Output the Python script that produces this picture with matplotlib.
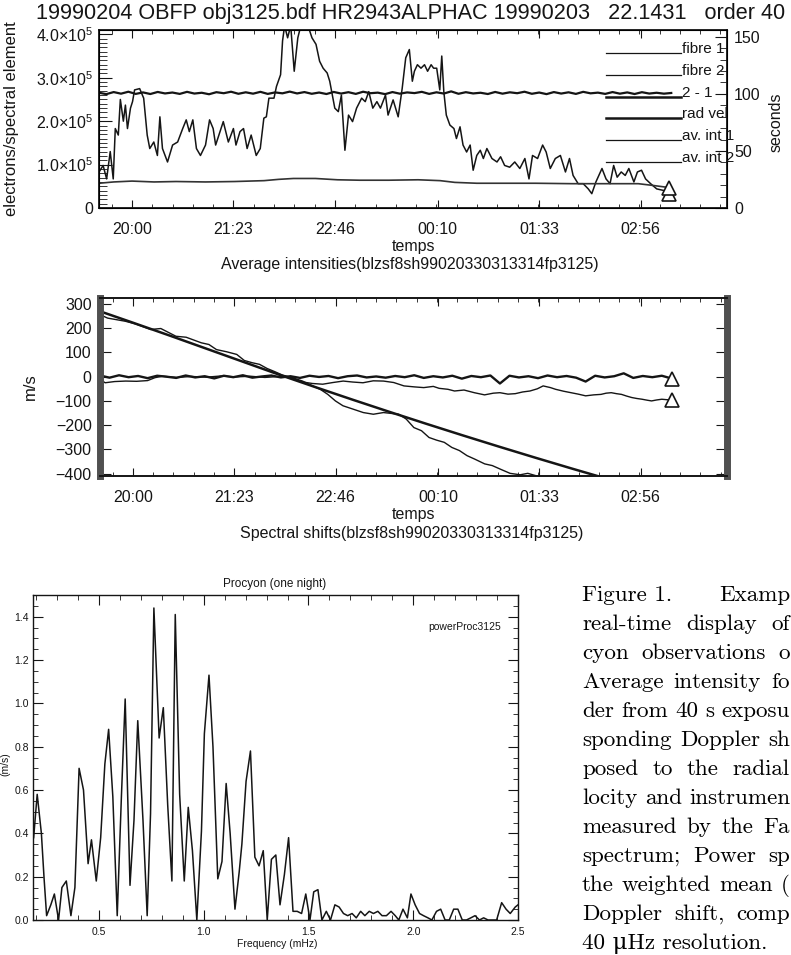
import matplotlib
matplotlib.use('Agg')
from matplotlib import pyplot as plt
from matplotlib.ticker import AutoMinorLocator

plt.rcParams['font.family'] = ['Liberation Sans', 'DejaVu Sans']
plt.rcParams['mathtext.fontset'] = 'custom'
plt.rcParams['mathtext.rm'] = 'Liberation Sans'
plt.rcParams['mathtext.it'] = 'Liberation Sans:italic'
plt.rcParams['mathtext.bf'] = 'Liberation Sans:bold'

W, H = 791, 955
ink = '#151515'

# ---- time axis (decimal hours, past midnight > 24) ----
tickHours = [20.0, 21.383, 22.767, 24.167, 25.55, 26.933]
tickNames = ['20:00', '21:23', '22:46', '00:10', '01:33', '02:56']

# ---- panel 1 : average intensities ----
int1Time = [19.551, 19.606, 19.654, 19.703, 19.744, 19.772, 19.813, 19.841, 19.882, 19.910,
            19.938, 19.979, 20.007, 20.035, 20.104, 20.159, 20.207, 20.242, 20.297, 20.346,
            20.380, 20.415, 20.484, 20.553, 20.622, 20.691, 20.739, 20.781, 20.829, 20.878,
            20.933, 21.002, 21.057, 21.106, 21.140, 21.244, 21.313, 21.382, 21.417, 21.472,
            21.520, 21.569, 21.624, 21.693, 21.748, 21.797, 21.831, 21.866, 21.935, 21.969,
            22.025, 22.052, 22.080, 22.121, 22.163, 22.211, 22.260, 22.301, 22.349, 22.398,
            22.453, 22.508, 22.557, 22.605, 22.660, 22.695, 22.729, 22.764, 22.812, 22.854,
            22.902, 22.951, 23.006, 23.061, 23.130, 23.179, 23.227, 23.282, 23.338, 23.386,
            23.455, 23.490, 23.559, 23.628, 23.683, 23.731, 23.780, 23.821, 23.849, 23.890,
            23.939, 23.987, 24.029, 24.077, 24.111, 24.153, 24.195, 24.222, 24.250, 24.284,
            24.333, 24.388, 24.422, 24.471, 24.512, 24.561, 24.609, 24.650, 24.699, 24.747,
            24.789, 24.837, 24.906, 24.975, 25.024, 25.079, 25.148, 25.217, 25.286, 25.355,
            25.411, 25.459, 25.528, 25.597, 25.645, 25.701, 25.770, 25.839, 25.908, 25.963,
            26.012, 26.081, 26.150, 26.219, 26.267, 26.323, 26.406, 26.461, 26.516, 26.565,
            26.613, 26.668, 26.723, 26.772, 26.841, 26.889, 26.945, 27.000, 27.069, 27.152,
            27.256, 27.325]
int1 = [0.83, 0.98, 0.67, 1.30, 0.67, 1.83, 1.68, 2.50, 2.00, 2.37,
        1.83, 2.30, 2.45, 2.72, 2.75, 2.53, 1.68, 1.37, 1.52, 1.21,
        2.10, 1.37, 1.06, 1.45, 1.52, 1.83, 2.03, 1.76, 2.03, 1.37,
        1.21, 1.45, 2.03, 1.83, 1.45, 1.99, 1.52, 1.83, 1.45, 1.76,
        1.83, 1.37, 1.68, 1.21, 1.37, 2.07, 2.10, 2.53, 2.53, 2.80,
        3.07, 3.85, 4.20, 3.92, 4.20, 3.15, 3.92, 4.20, 4.15, 4.20,
        3.92, 3.77, 3.38, 3.22, 3.11, 2.92, 2.61, 2.30, 2.22, 2.60,
        1.33, 2.14, 1.99, 2.30, 2.53, 2.45, 2.68, 2.30, 2.45, 2.30,
        2.60, 2.14, 2.49, 2.10, 2.76, 3.46, 3.65, 2.92, 3.15, 3.30,
        3.22, 3.30, 3.15, 3.30, 3.22, 3.22, 2.72, 3.50, 2.68, 2.14,
        1.91, 1.83, 1.60, 1.87, 1.45, 1.29, 1.45, 0.87, 1.21, 1.33,
        1.14, 1.37, 1.14, 1.06, 1.18, 0.98, 0.94, 1.06, 0.91, 1.14,
        0.67, 1.21, 1.14, 1.45, 1.29, 0.91, 1.14, 1.21, 0.83, 1.14,
        0.75, 0.56, 0.56, 0.44, 0.33, 0.60, 0.91, 0.67, 0.56, 0.98,
        0.71, 0.83, 0.75, 0.91, 0.60, 0.83, 0.87, 0.67, 0.56, 0.44,
        0.40, 0.33]  # x 1e5

int2Time = [19.551, 19.75, 20.0, 20.3, 20.6, 21.0, 21.4, 21.8, 22.0, 22.2, 22.5, 22.8, 23.1,
            23.5, 23.9, 24.2, 24.4, 24.7, 25.0, 25.5, 26.0, 26.5, 26.9, 27.1, 27.325]
int2 = [0.57, 0.60, 0.62, 0.60, 0.61, 0.60, 0.61, 0.63, 0.66, 0.68, 0.68, 0.65, 0.64,
        0.64, 0.65, 0.63, 0.59, 0.57, 0.57, 0.57, 0.56, 0.56, 0.56, 0.52, 0.47]  # x 1e5

expTime = [19.55, 19.65, 19.75, 19.85, 19.95, 20.05, 20.15, 20.25, 20.35, 20.45,
           20.55, 20.65, 20.75, 20.85, 20.95, 21.05, 21.15, 21.25, 21.35, 21.45,
           21.55, 21.65, 21.75, 21.85, 21.95, 22.05, 22.15, 22.25, 22.35, 22.45,
           22.55, 22.65, 22.75, 22.85, 22.95, 23.05, 23.15, 23.25, 23.35, 23.45,
           23.55, 23.65, 23.75, 23.85, 23.95, 24.05, 24.15, 24.25, 24.35, 24.45,
           24.55, 24.65, 24.75, 24.85, 24.95, 25.05, 25.15, 25.25, 25.35, 25.45,
           25.55, 25.65, 25.75, 25.85, 25.95, 26.05, 26.15, 26.25, 26.35, 26.45,
           26.55, 26.65, 26.75, 26.85, 26.95, 27.05, 27.15, 27.25, 27.35]
expSec = [101.0, 99.8, 101.6, 100.2, 101.9, 100.0, 101.3, 99.9, 101.7, 100.4,
          101.2, 100.0, 101.8, 100.3, 101.0, 99.7, 101.5, 100.6, 101.9, 100.1,
          101.4, 100.2, 101.8, 100.0, 101.3, 100.5, 102.0, 100.4, 101.6, 100.1,
          101.2, 99.9, 101.7, 100.3, 101.5, 100.0, 101.9, 100.6, 101.1, 99.8,
          101.6, 100.2, 101.3, 100.7, 101.8, 100.0, 101.4, 100.3, 102.2, 100.1,
          101.5, 100.4, 101.0, 99.9, 101.7, 100.2, 101.4, 100.6, 101.9, 100.1,
          101.2, 99.8, 101.6, 100.3, 101.4, 100.0, 101.8, 100.5, 101.1, 100.0,
          101.6, 100.2, 101.3, 99.9, 101.5, 100.3, 101.0, 100.2, 100.8]

legendNames = ['fibre 1', 'fibre 2', '2 - 1', 'rad vel', 'av. int 1', 'av. int 2']
legendWidths = [0.9, 0.9, 1.8, 1.8, 0.9, 0.9]

# ---- panel 2 : spectral shifts (m/s) ----
radvelTime = [19.551, 20.0, 20.5, 21.0, 21.5, 22.0, 22.5, 23.0, 23.5, 24.0, 24.5,
              25.0, 25.5, 26.0, 26.5, 27.0]
radvel = [270, 223, 170, 116, 62, 8, -44, -95, -145, -194, -242, -289, -335, -380, -424, -467]

shift1Time = [19.551, 19.654, 19.896, 20.035, 20.242, 20.380, 20.587, 20.726, 20.933, 21.037,
              21.140, 21.278, 21.417, 21.520, 21.624, 21.728, 21.831, 21.935, 22.039, 22.177,
              22.315, 22.453, 22.557, 22.660, 22.764, 22.867, 23.006, 23.144, 23.282, 23.420,
              23.628, 23.731, 23.835, 23.939, 24.042, 24.146, 24.250, 24.353, 24.457, 24.561,
              24.664, 24.802, 24.906, 25.010, 25.148, 25.286, 25.390, 25.493, 25.632, 25.770]
shift1 = [256, 242, 229, 218, 195, 199, 167, 163, 140, 133,
          112, 103, 92, 67, 58, 51, 34, 21, 7, -4,
          -18, -38, -52, -73, -100, -120, -134, -148, -155, -148,
          -155, -175, -210, -223, -251, -262, -271, -292, -305, -326,
          -340, -360, -367, -381, -399, -405, -399, -408, -422, -442]

diffTime = [19.55, 19.68, 19.81, 19.94, 20.07, 20.20, 20.33, 20.46, 20.59, 20.72,
            20.85, 20.98, 21.11, 21.24, 21.37, 21.50, 21.63, 21.76, 21.89, 22.02,
            22.15, 22.28, 22.41, 22.54, 22.67, 22.80, 22.93, 23.06, 23.19, 23.32,
            23.45, 23.58, 23.71, 23.84, 23.97, 24.10, 24.23, 24.36, 24.49, 24.62,
            24.75, 24.88, 25.01, 25.14, 25.27, 25.40, 25.53, 25.66, 25.79, 25.92,
            26.05, 26.18, 26.31, 26.44, 26.57, 26.70, 26.83, 26.96, 27.09, 27.22, 27.36]
diff = [5, -4, 6, -2, 3, -6, 4, 0, -5, 5,
        -3, 2, -7, 4, -2, 6, -4, 1, 5, -3,
        2, -5, 4, -1, 3, -6, 2, 5, -3, 1,
        -4, 3, -2, 6, -5, 2, -3, 4, -8, 3,
        -2, 5, -28, 4, -3, 2, -6, 5, -2, 3,
        -4, -20, 4, -3, 2, 14, -5, 3, -2, 4, -8]

shift2Time = [19.55, 19.62, 19.75, 19.90, 20.05, 20.20, 20.30, 20.40, 20.60, 20.80,
              21.00, 21.20, 21.40, 21.60, 21.80, 22.00, 22.15, 22.32, 22.45, 22.59,
              22.73, 22.87, 23.00, 23.14, 23.28, 23.42, 23.56, 23.70, 23.84, 23.97,
              24.10, 24.18, 24.30, 24.39, 24.52, 24.66, 24.80, 24.92, 25.01, 25.12,
              25.22, 25.32, 25.42, 25.52, 25.60, 25.70, 25.77, 25.88, 25.98, 26.08,
              26.18, 26.29, 26.39, 26.46, 26.53, 26.60, 26.67, 26.74, 26.81, 26.88,
              26.95, 27.02, 27.08, 27.15, 27.22, 27.29, 27.36]
shift2 = [-11, -25, -20, -18, -19, -16, -4, 2, -3, 1,
          -2, 3, -1, 2, -3, 1, -4, -22, -28, -31,
          -24, -18, -22, -25, -17, -18, -24, -38, -42, -45,
          -40, -48, -52, -59, -55, -66, -75, -68, -66, -72,
          -70, -63, -59, -50, -38, -45, -52, -60, -66, -72,
          -79, -75, -73, -68, -66, -70, -73, -80, -86, -90,
          -93, -97, -100, -96, -93, -95, -95]

# ---- panel 3 : power spectrum ----
freq = [0.188, 0.205, 0.225, 0.238, 0.250, 0.270, 0.287, 0.307, 0.323, 0.344,
        0.366, 0.385, 0.405, 0.426, 0.448, 0.464, 0.487, 0.508, 0.528, 0.546,
        0.566, 0.587, 0.607, 0.625, 0.648, 0.667, 0.685, 0.710, 0.730, 0.746,
        0.762, 0.787, 0.807, 0.828, 0.848, 0.864, 0.885, 0.907, 0.926, 0.946,
        0.967, 0.989, 1.003, 1.025, 1.044, 1.067, 1.087, 1.107, 1.126, 1.149,
        1.169, 1.182, 1.202, 1.223, 1.244, 1.264, 1.284, 1.303, 1.323, 1.344,
        1.364, 1.385, 1.405, 1.426, 1.446, 1.467, 1.487, 1.507, 1.525, 1.545,
        1.564, 1.585, 1.605, 1.626, 1.646, 1.667, 1.687, 1.708, 1.728, 1.749,
        1.769, 1.790, 1.810, 1.831, 1.851, 1.872, 1.894, 1.914, 1.931, 1.951,
        1.972, 1.989, 2.009, 2.030, 2.049, 2.070, 2.089, 2.111, 2.131, 2.152,
        2.172, 2.193, 2.213, 2.234, 2.254, 2.275, 2.295, 2.316, 2.336, 2.357,
        2.377, 2.398, 2.422, 2.443, 2.463, 2.487, 2.500]
power = [0.38, 0.58, 0.40, 0.19, 0.02, 0.07, 0.12, 0.00, 0.15, 0.18,
         0.02, 0.15, 0.70, 0.60, 0.26, 0.37, 0.18, 0.38, 0.72, 0.88,
         0.57, 0.02, 0.57, 1.02, 0.16, 0.46, 0.92, 0.46, 0.02, 0.49,
         1.44, 0.84, 0.98, 0.53, 0.18, 1.41, 0.58, 0.18, 0.52, 0.32,
         0.00, 0.41, 0.86, 1.13, 0.80, 0.19, 0.27, 0.63, 0.40, 0.05,
         0.22, 0.35, 0.64, 0.78, 0.29, 0.25, 0.32, 0.00, 0.28, 0.30,
         0.07, 0.21, 0.38, 0.04, 0.04, 0.03, 0.12, 0.00, 0.13, 0.14,
         0.00, 0.04, 0.00, 0.07, 0.06, 0.03, 0.02, 0.03, 0.01, 0.04,
         0.02, 0.04, 0.03, 0.04, 0.02, 0.02, 0.04, 0.02, 0.00, 0.05,
         0.01, 0.12, 0.07, 0.03, 0.02, 0.01, 0.00, 0.04, 0.05, 0.00,
         0.00, 0.05, 0.05, 0.00, 0.00, 0.01, 0.02, 0.00, 0.01, 0.00,
         0.00, 0.00, 0.08, 0.05, 0.03, 0.06, 0.07]

# ---- caption (right of the power spectrum, cut by the page edge) ----
captionLines = [["Figure 1.", "Examp"], ["real-time", "display", "of"],
                ["cyon", "observations", "o"], ["Average", "intensity", "fo"],
                ["der", "from", "40", "s", "exposu"], ["sponding", "Doppler", "sh"],
                ["posed", "to", "the", "radial"], ["locity", "and", "instrumen"],
                ["measured", "by", "the", "Fa"], ["spectrum;", "Power", "sp"],
                ["the", "weighted", "mean", "("], ["Doppler", "shift,", "comp"]]
captionLast = "40 \u03bcHz resolution."


def box(left, top, right, bottom):
    return [left / W, 1 - bottom / H, (right - left) / W, (bottom - top) / H]


def figText(x, y, s, **kw):
    return fig.text(x / W, 1 - y / H, s, **kw)


fig = plt.figure(figsize=(W / 100, H / 100), dpi=100)

# ================= panel 1 =================
ax1 = fig.add_axes(box(99, 30, 727, 208))
ax1.plot(int1Time, [v * 1e5 for v in int1], color=ink, lw=1.1)
ax1.plot(int2Time, [v * 1e5 for v in int2], color='#333333', lw=1.2)
ax1.plot(int1Time[-1], int1[-1] * 1e5, marker='^', ms=10, mfc='white', mec=ink, mew=1.2)
ax1.plot(int2Time[-1], int2[-1] * 1e5, marker='^', ms=10, mfc='white', mec=ink, mew=1.2)
ax1.set_xlim(19.55, 28.11)
ax1.set_ylim(0, 4.1e5)
ax1.set_yticks([0, 1e5, 2e5, 3e5, 4e5])
ax1.set_yticklabels(['0', '1.0\u00d710$^5$', '2.0\u00d710$^5$', '3.0\u00d710$^5$', '4.0\u00d710$^5$'])
ax1.yaxis.set_minor_locator(AutoMinorLocator(10))
ax1.set_xticks(tickHours)
ax1.set_xticklabels(tickNames)
ax1.xaxis.set_minor_locator(AutoMinorLocator(5))
ax1.tick_params(which='both', direction='in', top=True, right=False, labelsize=11.5, colors=ink)
ax1.tick_params(axis='x', which='major', length=6, pad=10)
ax1.tick_params(axis='x', which='minor', length=3)
ax1.tick_params(axis='y', which='major', length=9, pad=4)
ax1.tick_params(axis='y', which='minor', length=6)

ax1r = ax1.twinx()
ax1r.plot(expTime, expSec, color=ink, lw=1.6)
ax1r.set_ylim(0, 156)
ax1r.set_yticks([0, 50, 100, 150])
ax1r.yaxis.set_minor_locator(AutoMinorLocator(5))
ax1r.tick_params(which='both', direction='in', labelsize=11.5, colors=ink, pad=5)
ax1r.tick_params(which='major', length=9)
ax1r.tick_params(which='minor', length=5)

for i, name in enumerate(legendNames):
    yRow = 1 - (53 + i * 21.8 - 30) / 178
    ax1r.plot([0.807, 0.927], [yRow, yRow], transform=ax1.transAxes, color=ink,
              lw=legendWidths[i], clip_on=False)
    ax1r.text(0.928, yRow, name, transform=ax1.transAxes, fontsize=11, color=ink,
              va='baseline', ha='left')

for sp in ax1.spines.values():
    sp.set_linewidth(1.3)
    sp.set_color(ink)

figText(411, 14, '19990204 OBFP obj3125.bdf HR2943ALPHAC 19990203   22.1431   order 40',
        ha='center', va='center', fontsize=15.6, color=ink)
figText(12, 119, 'electrons/spectral element', rotation=90, ha='center', va='center',
        fontsize=12, color=ink)
figText(776, 122, 'seconds', rotation=90, ha='center', va='center', fontsize=11.5, color=ink)
figText(413, 247, 'temps', ha='center', va='center', fontsize=11.5, color=ink)
figText(410, 265, 'Average intensities(blzsf8sh99020330313314fp3125)', ha='center',
        va='center', fontsize=11.5, color=ink)

# ================= panel 2 =================
ax2 = fig.add_axes(box(100, 298, 727, 476))
ax2.plot(radvelTime, radvel, color=ink, lw=1.8)
ax2.plot(shift1Time, shift1, color=ink, lw=1.0)
ax2.plot(shift2Time, shift2, color=ink, lw=1.0)
ax2.plot(diffTime, diff, color=ink, lw=1.7)
ax2.plot(diffTime[-1], diff[-1], marker='^', ms=10, mfc='white', mec=ink, mew=1.2)
ax2.plot(shift2Time[-1], shift2[-1], marker='^', ms=10, mfc='white', mec=ink, mew=1.2)
ax2.set_xlim(19.55, 28.11)
ax2.set_ylim(-410, 325)
ax2.set_yticks([-400, -300, -200, -100, 0, 100, 200, 300])
ax2.set_xticks(tickHours)
ax2.set_xticklabels(tickNames)
ax2.xaxis.set_minor_locator(AutoMinorLocator(5))
ax2.tick_params(which='both', direction='in', top=True, right=True, labelsize=11.5, colors=ink)
ax2.tick_params(axis='x', which='major', length=6, pad=10)
ax2.tick_params(axis='x', which='minor', length=3)
ax2.tick_params(axis='y', which='major', length=8, pad=6)
for side in ['top', 'bottom']:
    ax2.spines[side].set_linewidth(1.4)
    ax2.spines[side].set_color(ink)
for side in ['left', 'right']:
    ax2.spines[side].set_linewidth(5)
    ax2.spines[side].set_color('#505050')

figText(30, 387, 'm/s', rotation=90, ha='center', va='center', fontsize=12, color=ink)
figText(413, 515, 'temps', ha='center', va='center', fontsize=11.5, color=ink)
figText(412, 533, 'Spectral shifts(blzsf8sh99020330313314fp3125)', ha='center',
        va='center', fontsize=11.5, color=ink)

# ================= panel 3 =================
ax3 = fig.add_axes(box(33, 595, 518, 920))
ax3.plot(freq, power, color=ink, lw=1.1)
ax3.set_xlim(0.185, 2.5)
ax3.set_ylim(0, 1.5)
ax3.set_xticks([0.5, 1.0, 1.5, 2.0, 2.5])
ax3.set_yticks([0.0, 0.2, 0.4, 0.6, 0.8, 1.0, 1.2, 1.4])
ax3.xaxis.set_minor_locator(AutoMinorLocator(5))
ax3.yaxis.set_minor_locator(AutoMinorLocator(4))
ax3.tick_params(which='both', direction='in', top=True, right=True, labelsize=7.5,
                colors=ink)
ax3.tick_params(which='major', length=7)
ax3.tick_params(which='minor', length=3.5)
ax3.tick_params(axis='x', pad=5)
ax3.tick_params(axis='y', pad=3)
for sp in ax3.spines.values():
    sp.set_linewidth(1.0)
    sp.set_color(ink)
ax3.text(0.889, 0.90, 'powerProc3125', transform=ax3.transAxes, ha='center', va='center',
         fontsize=7.5, color=ink)
figText(275, 584, 'Procyon (one night)', ha='center', va='center', fontsize=8.5, color=ink)
figText(277, 944, 'Frequency (mHz)', ha='center', va='center', fontsize=7.5, color=ink)
figText(5, 764, '(m/s)', rotation=90, ha='center', va='center', fontsize=7.5, color=ink)

# ================= caption =================
capFont = dict(family=['cmr10', 'DejaVu Serif'], fontsize=16.6, color='black')
capLeft, capRight, capTop, capStep = 582, 790, 601, 29.0
renderer = fig.canvas.get_renderer()
for i, words in enumerate(captionLines):
    yBase = capTop + i * capStep
    texts = [figText(0, yBase, w, va='baseline', ha='left', **capFont) for w in words]
    widths = [t.get_window_extent(renderer).width for t in texts]
    gap = (capRight - capLeft - sum(widths)) / (len(words) - 1)
    x = capLeft
    for t, w in zip(texts, widths):
        t.set_x(x / W)
        x += w + gap
figText(capLeft, capTop + len(captionLines) * capStep, captionLast, va='baseline', ha='left',
        **capFont)

fig.savefig('out.png', dpi=100)
